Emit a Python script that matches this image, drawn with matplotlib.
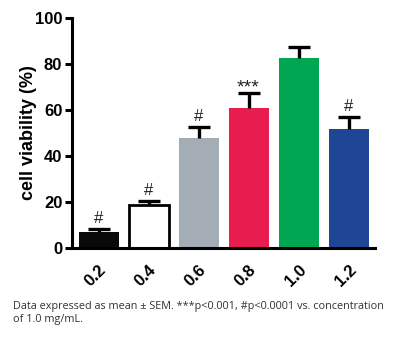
import matplotlib
matplotlib.use("Agg")
import matplotlib.pyplot as plt

concentrations = ["0.2", "0.4", "0.6", "0.8", "1.0", "1.2"]
viability = [6.8, 18.7, 47.8, 60.7, 82.5, 51.9]
sem = [1.6, 1.7, 4.9, 6.7, 5.0, 5.2]
significance = ["#", "#", "#", "***", "", "#"]
bar_colors = ["#0a0a0a", "#ffffff", "#a4acb6", "#e81c4f", "#00a652", "#1f4595"]

plt.rcParams["font.family"] = ["Liberation Sans", "DejaVu Sans"]

fig = plt.figure(figsize=(4.01, 3.37), dpi=100)
ax = fig.add_axes([72 / 401, 1 - 248 / 337, (375 - 72) / 401, (248 - 18) / 337])

x = list(range(len(concentrations)))
ax.bar(x, viability, width=0.8, color=bar_colors, edgecolor="black",
       linewidth=[0, 2.0, 0, 0, 0, 0], zorder=2)
# upper error bars only (SEM), no cap at the bar top
_, caps, _ = ax.errorbar(x, viability, yerr=[[0] * len(sem), sem], fmt="none",
                         ecolor="black", elinewidth=2.4, capsize=8,
                         capthick=2.4, zorder=3)
caps[0].set_visible(False)

for xi, v, e, s in zip(x, viability, sem, significance):
    if s == "#":
        ax.text(xi, v + e + 1.3, s, ha="center", va="bottom",
                fontsize=12, color="#222222")
    elif s:
        ax.text(xi, v + e - 1.5, s, ha="center", va="bottom",
                fontsize=14, color="#222222")

ax.set_xlim(-0.53, 5.53)
ax.set_ylim(0, 100)
ax.set_yticks([0, 20, 40, 60, 80, 100])
ax.set_xticks(x)
ax.set_xticklabels(concentrations, rotation=45, ha="right", rotation_mode="anchor")

for side in ("top", "right"):
    ax.spines[side].set_visible(False)
for side in ("left", "bottom"):
    ax.spines[side].set_linewidth(2.2)

ax.tick_params(axis="y", direction="out", length=5, width=2.2, labelsize=12, pad=2)
ax.tick_params(axis="x", length=0, labelsize=12, pad=10)
for lbl in ax.get_xticklabels() + ax.get_yticklabels():
    lbl.set_fontweight("bold")

ax.set_ylabel("cell viability (%)", fontsize=13, fontweight="bold")
ax.yaxis.set_label_coords(-0.116, 0.5)

fig.text(13 / 401, 1 - 313 / 337,
         "Data expressed as mean ± SEM. ***p<0.001, #p<0.0001 vs. concentration\nof 1.0 mg/mL.",
         fontsize=7.85, family="Open Sans", color="#333333", va="center", ha="left",
         linespacing=1.2)

fig.savefig("out.png", dpi=100, facecolor="white")
